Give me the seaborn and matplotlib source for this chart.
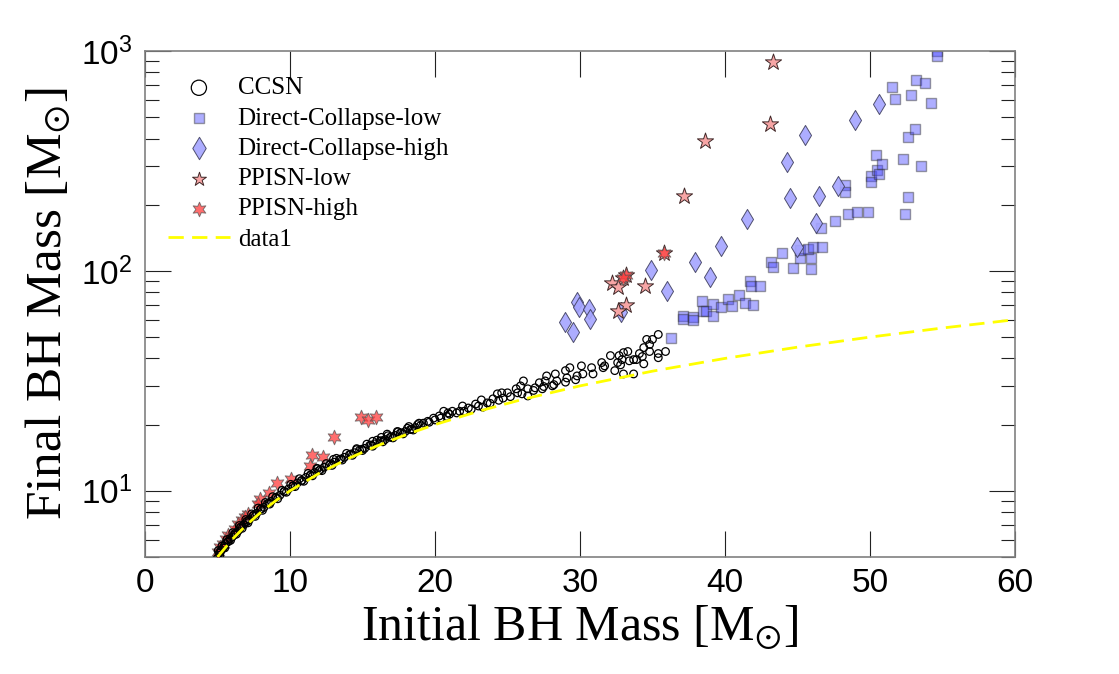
import numpy as np
import pandas as pd
import seaborn as sns
import matplotlib.pyplot as plt
from matplotlib import font_manager, ticker

# CCSN remnants (initial mass, final mass)
ccsn_init = [
    5.0, 5.1, 5.25, 5.4, 5.55, 5.7, 5.85, 6.0, 6.2, 6.4, 6.6, 6.8, 7.0, 7.2, 7.45, 7.7,
    7.95, 8.2, 8.45, 8.7, 9.0, 9.3, 9.6, 9.9, 10.2, 10.5, 10.8, 11.1, 11.4, 11.7, 12.0,
    12.35, 12.7, 13.05, 13.4, 13.75, 14.1, 14.45, 14.8, 15.15, 15.5, 15.85, 16.2, 16.55,
    16.9, 17.25, 17.6, 17.95, 18.3, 18.65, 19.0,
    5.15, 5.5, 5.9, 6.3, 6.7, 7.1, 7.6, 8.1, 8.6, 9.15, 9.75, 10.35, 10.95, 11.55, 12.2,
    12.9, 13.6, 14.3, 15.0, 15.7, 16.4, 17.1, 17.8, 18.5,
    5.05, 5.3, 5.65, 6.05, 6.5, 6.95, 7.35, 7.8, 8.3, 8.8, 9.45, 10.05, 10.65, 11.25,
    11.85, 12.5, 13.2, 13.9, 14.6, 15.3, 16.0, 16.75, 17.45, 18.1, 18.8,
    5.2, 5.45, 5.75, 6.15, 6.55, 7.05, 7.5, 8.0, 8.55, 9.05, 9.6, 10.2, 10.8, 11.4,
    12.1, 12.8, 13.5, 14.2, 14.95, 15.6, 16.3, 17.0, 17.7, 18.4,
    11.9, 13.0, 14.6, 15.7, 16.3, 16.7, 17.4, 18.2, 18.9,
    19.6, 20.0, 20.4, 20.8, 21.0, 21.5, 22.0, 22.5, 23.0, 23.8, 24.4, 25.2, 26.0, 26.8,
    27.5, 28.2, 29.0, 29.7,
    35.4, 34.6, 35.0, 34.8, 34.4, 34.8, 35.4, 35.9, 35.4, 34.1, 34.3, 34.4, 33.9, 33.7,
    33.4, 33.3, 33.0, 32.7, 32.9, 32.6, 32.8, 33.0, 33.7, 32.4, 32.1, 31.5, 31.7, 31.6,
    30.8, 30.9, 30.1, 30.2, 29.8, 29.3, 29.0, 29.1, 28.3, 28.4, 27.7, 27.6, 28.1, 27.2,
    26.9, 27.4, 26.1, 26.4, 25.9, 25.6, 25.7, 26.4, 25.0, 24.6, 24.3, 24.7, 24.0, 23.6,
    23.2, 23.3, 22.8, 22.3, 21.9, 21.7, 21.2, 20.9, 20.6, 20.3, 19.9, 19.5, 19.2,
]
ccsn_final = [
    4.95, 5.2, 5.35, 5.5, 5.75, 5.85, 6.05, 6.15, 6.4, 6.55, 6.85, 7.0, 7.25, 7.4, 7.7, 7.9,
    8.25, 8.4, 8.75, 8.95, 9.3, 9.55, 9.95, 10.2, 10.5, 10.85, 11.1, 11.5, 11.75, 12.1, 12.35,
    12.8, 13.1, 13.5, 13.85, 14.2, 14.6, 14.9, 15.3, 15.6, 16.1, 16.35, 16.8, 17.1,
    17.5, 17.85, 18.3, 18.6, 19.0, 19.4, 19.8,
    5.1, 5.5, 5.95, 6.35, 6.75, 7.15, 7.65, 8.15, 8.7, 9.2, 9.85, 10.45, 11.05, 11.7, 12.35,
    13.05, 13.8, 14.5, 15.25, 15.95, 16.7, 17.4, 18.15, 18.9,
    5.35, 5.6, 6.0, 6.45, 6.95, 7.4, 7.85, 8.35, 8.85, 9.4, 10.05, 10.7, 11.35, 12.0,
    12.65, 13.3, 14.05, 14.8, 15.55, 16.3, 17.0, 17.8, 18.55, 19.25, 20.0,
    5.3, 5.6, 5.9, 6.3, 6.75, 7.25, 7.75, 8.25, 8.8, 9.35, 9.9, 10.55, 11.15, 11.8,
    12.5, 13.25, 13.95, 14.7, 15.45, 16.15, 16.9, 17.6, 18.35, 19.1,
    12.6, 13.9, 15.4, 16.8, 17.5, 18.1, 18.6, 19.6, 20.3,
    20.5, 21.0, 21.4, 21.8, 22.3, 22.6, 23.0, 23.5, 24.3, 25.0, 25.8, 26.8, 27.6, 28.6,
    29.8, 30.4, 31.2, 32.0,
    51.4, 48.8, 48.8, 46.3, 44.8, 43.0, 42.1, 43.0, 40.3, 42.1, 40.8, 37.8, 39.5, 39.5,
    39.0, 43.0, 42.5, 41.2, 39.5, 38.3, 37.4, 34.0, 34.0, 35.2, 41.2, 38.3, 37.0, 36.3,
    36.3, 34.0, 37.0, 34.0, 33.3, 36.3, 35.2, 32.6, 34.0, 31.6, 33.3, 31.6, 30.0, 31.0,
    29.4, 29.1, 31.6, 29.1, 30.0, 29.1, 27.9, 27.0, 27.9, 27.9, 27.6, 26.4, 26.2, 25.1,
    25.9, 24.0, 24.8, 23.8, 24.3, 23.0, 23.0, 22.6, 23.0, 21.9, 21.4, 20.7, 20.3,
]

# direct collapse, low-mass branch
dcl_init = [
    37.1, 37.1, 37.8, 37.8, 38.4, 38.5, 38.7, 39.2, 39.2, 39.7, 40.2, 40.5, 41.0, 41.4,
    41.9, 41.7, 41.8, 42.4, 43.2, 43.3, 43.9, 44.7, 45.2, 45.2, 45.9, 45.9, 45.7, 46.1,
    46.7, 36.3, 46.6, 47.6, 48.5, 49.1, 49.9, 52.4, 52.6, 48.3, 48.3, 50.1, 50.1, 50.5,
    50.6, 50.4, 50.8, 52.3, 53.5, 52.6, 53.1, 51.5, 51.7, 52.8, 53.2, 53.8, 54.2, 54.6, 54.6,
]
dcl_final = [
    62.2, 60.2, 61.5, 59.6, 72.8, 65.6, 65.6, 70.6, 62.2, 68.4, 74.4, 69.1, 77.6, 71.3,
    69.8, 90.0, 85.3, 85.3, 110, 104, 120, 103, 114, 125, 114, 102, 126, 129,
    129, 49.3, 156, 169, 181, 185, 185, 181, 216, 245, 228, 270, 253, 288,
    276, 337, 306, 323, 300, 407, 444, 684, 602, 628, 736, 713, 583, 1000, 948,
]

# direct collapse, high-mass branch
dch_init = [
    29.0, 29.5, 29.8, 29.9, 30.6, 30.7, 32.8, 34.9, 36.0, 37.9, 39.0, 39.7, 41.5,
    45.0, 46.3, 44.5, 46.5, 47.8, 44.3, 45.5, 49.0, 50.6,
]
dch_final = [
    58.3, 52.5, 72.1, 68.4, 67.0, 60.3, 64.9, 101, 81.0, 110, 93.8, 130, 173,
    129, 166, 214, 218, 243, 313, 416, 488, 577,
]

# pulsational pair instability
ppl_init = [43.3, 43.1, 38.6, 37.2, 35.8, 33.2, 33.0, 32.2, 32.6, 34.5, 33.2, 32.6]
ppl_final = [891, 467, 391, 218, 121, 95.9, 92.9, 88.1, 84.5, 85.3, 69.8, 65.6]

pph_init = [
    35.8, 33.2, 33.0, 14.9, 15.4, 15.9, 13.0, 11.5, 12.3, 11.4, 10.1, 9.1, 8.55, 7.93,
    7.8, 7.1, 6.9, 6.7, 6.4, 6.2, 5.72, 5.59, 5.38, 5.17, 5.03,
]
pph_final = [
    121, 95.9, 92.9, 21.6, 20.9, 21.6, 17.5, 14.6, 14.3, 13.0, 11.35, 10.9, 9.79, 9.19,
    8.72, 7.84, 7.60, 7.36, 7.06, 6.69, 6.28, 6.02, 5.71, 5.54, 5.25,
]

# one-to-one reference line
line_mass = [5, 6, 7, 8, 9, 10, 12, 14, 16, 18, 20, 23, 26, 30, 35, 40, 45, 50, 55, 60]

sns.set_style("ticks")

names = {f.name for f in font_manager.fontManager.ttflist}
if "Liberation Sans Narrow" in names:
    tick_family, tick_size = "Liberation Sans Narrow", 27
else:
    tick_family, tick_size = "Liberation Sans", 24
plt.rcParams["font.family"] = [tick_family, "DejaVu Sans"]
plt.rcParams["mathtext.fontset"] = "stix"
plt.rcParams["text.color"] = "black"
plt.rcParams["axes.labelcolor"] = "black"
plt.rcParams["xtick.labelcolor"] = "black"
plt.rcParams["ytick.labelcolor"] = "black"
serif = ["Liberation Serif", "DejaVu Serif"]

fig, ax = plt.subplots(figsize=(11.19, 6.74), dpi=100)
fig.subplots_adjust(left=0.1296, right=0.907, bottom=0.1736, top=0.9243)

df_ccsn = pd.DataFrame({"init": ccsn_init, "final": ccsn_final})
df_dcl = pd.DataFrame({"init": dcl_init, "final": dcl_final})
df_dch = pd.DataFrame({"init": dch_init, "final": dch_final})
df_ppl = pd.DataFrame({"init": ppl_init, "final": ppl_final})
df_pph = pd.DataFrame({"init": pph_init, "final": pph_final})
df_line = pd.DataFrame({"init": line_mass, "final": line_mass})

sns.scatterplot(data=df_ccsn, x="init", y="final", ax=ax, marker="o", s=30,
                facecolors="none", edgecolor="black", linewidth=0.9, zorder=5,
                label="CCSN")
sns.scatterplot(data=df_dcl, x="init", y="final", ax=ax, marker="s", s=42,
                color=(0.3, 0.3, 1.0), edgecolor="#303030", linewidth=1.0,
                alpha=0.45, zorder=2, label="Direct-Collapse-low")
sns.scatterplot(data=df_dch, x="init", y="final", ax=ax, marker="d", s=105,
                color="#a4a4ff", edgecolor="#404060", linewidth=0.7,
                alpha=0.9, zorder=3, label="Direct-Collapse-high")
sns.scatterplot(data=df_ppl, x="init", y="final", ax=ax, marker="*", s=150,
                color="#f7a5a5", edgecolor="#402828", linewidth=0.7,
                zorder=4, label="PPISN-low")
sns.scatterplot(data=df_pph, x="init", y="final", ax=ax, marker=(6, 1, 0), s=110,
                color="#ff3c3c", edgecolor="#555555", linewidth=0.7,
                alpha=0.75, zorder=4, label="PPISN-high")
sns.lineplot(data=df_line, x="init", y="final", ax=ax, color="#ffff00", lw=2.0,
             dashes=(5.5, 3.0), zorder=6, label="data1", sort=False)

ax.set_yscale("log")
ax.set_xlim(0, 60)
ax.set_ylim(5, 1000)
ax.set_xticks(range(0, 61, 10))
ax.yaxis.set_major_locator(ticker.LogLocator(base=10))
ax.yaxis.set_minor_locator(ticker.LogLocator(base=10, subs=np.arange(2, 10)))
ax.yaxis.set_major_formatter(ticker.FuncFormatter(
    lambda v, pos: r"$\mathregular{10^{%d}}$" % round(np.log10(v))))
ax.yaxis.set_minor_formatter(ticker.NullFormatter())

ax.tick_params(which="major", direction="in", length=19, width=0.8,
               color="#222222", labelsize=tick_size, top=True, right=True, pad=8)
ax.tick_params(which="minor", direction="in", length=10, width=0.8,
               color="#222222", right=True)
ax.tick_params(axis="y", pad=9)
for sp in ax.spines.values():
    sp.set_color("#808080")
    sp.set_linewidth(1.2)

ax.set_xlabel(r"Initial BH Mass [M$_{\odot}$]", family=serif, fontsize=36, labelpad=2)
ax.set_ylabel(r"Final BH Mass [M$_{\odot}$]", family=serif, fontsize=37, labelpad=6)

leg = ax.legend(loc="upper left", bbox_to_anchor=(0.026, 0.949), frameon=False,
                borderpad=0, borderaxespad=0, handlelength=2.5, handletextpad=0.3,
                labelspacing=0.31, prop={"family": serif, "size": 18})
for h, sz in zip(leg.legend_handles[:5], [120, 60, 130, 110, 110]):
    h.set_sizes([sz])

plt.savefig("out.png", dpi=100)
plt.close()
